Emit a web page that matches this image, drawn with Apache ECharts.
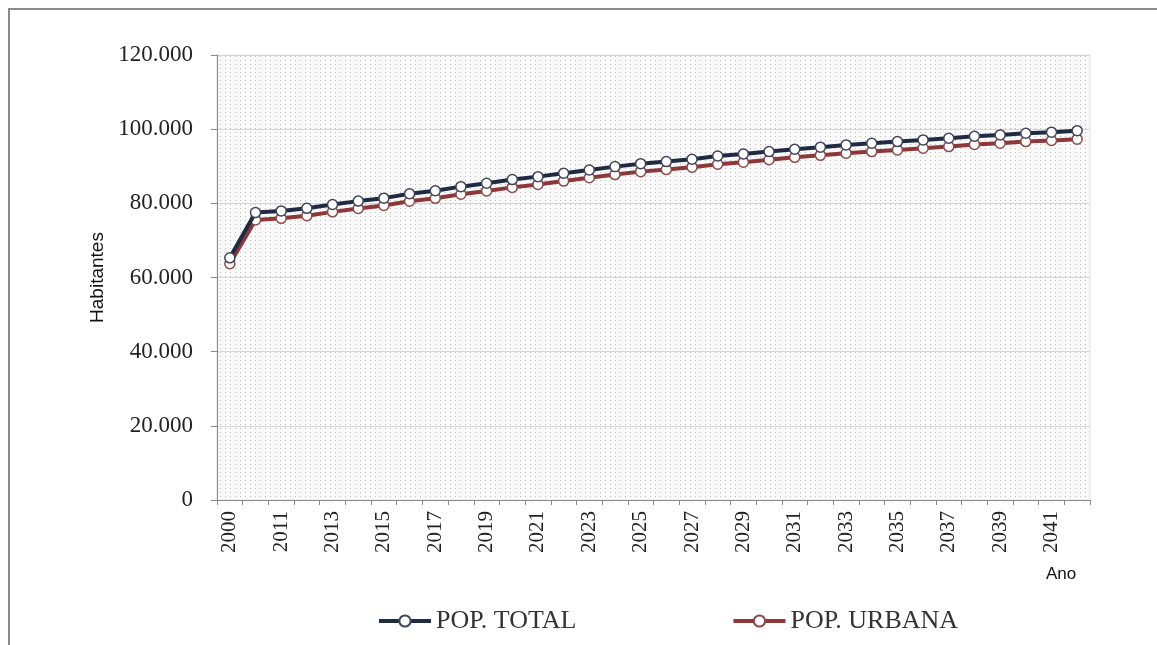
<!DOCTYPE html>
<html>
<head>
<meta charset="utf-8">
<script src="https://cdn.jsdelivr.net/npm/echarts@6/dist/echarts.min.js"></script>
<style>
  html, body { margin: 0; padding: 0; background: #fff; }
  #frame { position: absolute; left: 8px; top: 8px; width: 1160px; height: 650px;
           border-top: 2px solid #8a8a8a; border-left: 2px solid #8a8a8a; }
  #chart { position: absolute; left: 0; top: 0; width: 1157px; height: 645px; }
</style>
</head>
<body>
<div id="frame"></div>
<div id="chart"></div>
<script>
// Years of the projection (census year 2000, then yearly from 2010)
const years = ['2000','2010','2011','2012','2013','2014','2015','2016','2017','2018','2019',
  '2020','2021','2022','2023','2024','2025','2026','2027','2028','2029','2030',
  '2031','2032','2033','2034','2035','2036','2037','2038','2039','2040','2041','2042'];

// Total population (inhabitants)
const popTotal = [65300, 77500, 77950, 78650, 79700, 80600, 81400, 82600, 83400, 84500, 85400,
  86400, 87200, 88100, 89000, 89900, 90700, 91250, 91900, 92750, 93300, 93950,
  94600, 95150, 95750, 96200, 96650, 97100, 97550, 98100, 98450, 98900, 99200, 99600];

// Urban population (inhabitants)
const popUrbana = [63700, 75500, 75950, 76650, 77700, 78600, 79400, 80550, 81350, 82450, 83350,
  84300, 85100, 86000, 86900, 87750, 88550, 89100, 89750, 90550, 91100, 91750,
  92400, 92950, 93500, 93950, 94400, 94850, 95300, 95850, 96200, 96650, 96950, 97300];

const seriesNames = ['POP. TOTAL', 'POP. URBANA'];

// Dotted fill for the plot area
function dotPattern() {
  const c = document.createElement('canvas');
  c.width = 5; c.height = 4;
  const g = c.getContext('2d');
  g.fillStyle = '#fafafa';
  g.fillRect(0, 0, 5, 4);
  g.fillStyle = '#bdbdbd';
  g.fillRect(0, 0, 1, 1);
  return { image: c, repeat: 'repeat' };
}

const serif = 'Liberation Serif, Times New Roman, serif';
const sans = 'Liberation Sans, Arial, sans-serif';

const fmtThousands = v => String(v).replace(/\B(?=(\d{3})+(?!\d))/g, '.');

const chart = echarts.init(document.getElementById('chart'), null, { renderer: 'canvas' });
chart.setOption({
  animation: false,
  backgroundColor: 'transparent',
  grid: {
    left: 217, right: 67, top: 55, bottom: 145,
    show: true,
    backgroundColor: dotPattern(),
    borderColor: '#e2e2e2',
    borderWidth: 1
  },
  legend: {
    left: 372, top: 603,
    itemWidth: 52, itemHeight: 14,
    itemGap: 155,
    lineStyle: { width: 4 },
    textStyle: { fontFamily: serif, fontSize: 26, color: '#333' },
    data: seriesNames
  },
  xAxis: {
    type: 'category',
    data: years,
    boundaryGap: true,
    axisLine: { lineStyle: { color: '#888', width: 1 } },
    axisTick: { show: true, interval: 0, length: 5, lineStyle: { color: '#888' } },
    axisLabel: {
      interval: 1, rotate: 90, margin: 11,
      fontFamily: serif, fontSize: 21, color: '#222'
    },
    splitLine: { show: false }
  },
  yAxis: {
    type: 'value',
    min: 0, max: 120000, interval: 20000,
    name: 'Habitantes',
    nameLocation: 'middle',
    nameRotate: 90,
    nameGap: 103,
    nameTextStyle: { fontFamily: sans, fontSize: 19, color: '#111' },
    axisLine: { show: true, lineStyle: { color: '#888', width: 1 } },
    axisTick: { show: true, length: 6, lineStyle: { color: '#888' } },
    axisLabel: {
      margin: 24, fontFamily: serif, fontSize: 23, color: '#222',
      formatter: fmtThousands
    },
    splitLine: { show: true, lineStyle: { color: '#d6d6d6', width: 1 } }
  },
  graphic: [{
    type: 'text', left: 1046, top: 566,
    style: { text: 'Ano', fontFamily: sans, fontSize: 17, fill: '#111' }
  }],
  series: [
    {
      name: seriesNames[0], type: 'line', data: popTotal,
      symbol: 'circle', symbolSize: 10, z: 3,
      lineStyle: { color: '#1f2a44', width: 4 },
      itemStyle: { color: '#ffffff', borderColor: '#3f4556', borderWidth: 1.5 }
    },
    {
      name: seriesNames[1], type: 'line', data: popUrbana,
      symbol: 'circle', symbolSize: 10, z: 2,
      lineStyle: { color: '#8e3638', width: 4 },
      itemStyle: { color: '#ffffff', borderColor: '#8c4a4c', borderWidth: 1.5 }
    }
  ]
});
</script>
</body>
</html>
